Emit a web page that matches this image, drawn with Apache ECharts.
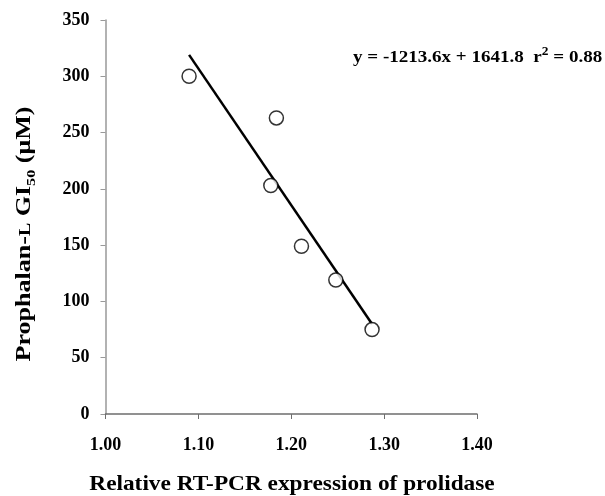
<!DOCTYPE html>
<html>
<head>
<meta charset="utf-8">
<title>Prophalan-L GI50 vs prolidase</title>
<script src="https://cdn.jsdelivr.net/npm/echarts@6/dist/echarts.min.js"></script>
<style>
  html, body { margin:0; padding:0; background:#fff; }
  #chart { width:605px; height:496px; }
</style>
</head>
<body>
<div id="chart"></div>
<script>
// data
var prolidaseExpr = [1.090, 1.184, 1.178, 1.211, 1.248, 1.287];
var gi50Values = [300, 263, 203, 149, 119, 75];
// regression line y = -1213.6x + 1641.8, ends as drawn
var trendX = [1.090, 1.287];
var trendY = [319, 80];
var xTicks = ['1.00', '1.10', '1.20', '1.30', '1.40'];
var yTicks = [0, 50, 100, 150, 200, 250, 300, 350];

var FONT = '"Liberation Serif", "Times New Roman", serif';

window.onload = function() {
  setChart();
}

function setChart() {
  var points = [];
  for (var i in prolidaseExpr) {
    points.push([prolidaseExpr[i], gi50Values[i]]);
  }
  var trend = [];
  for (var j in trendX) {
    trend.push([trendX[j], trendY[j]]);
  }

  // the original text is set wide, so stretch a little
  var tok = function(size, pad) {
    return { fontSize: size, fontWeight: 'bold', fontFamily: FONT, color: '#000', lineHeight: 26, verticalAlign: 'bottom', padding: pad || 0 };
  };

  var option = {
    animation: false,
    grid: { left: 105.5, right: 128, top: 20, bottom: 82 },
    xAxis: {
      type: 'value',
      min: 1.0,
      max: 1.4,
      interval: 0.1,
      splitLine: { show: false },
      axisLine: { lineStyle: { color: '#6e6e6e', width: 1.5 } },
      axisTick: { length: 5, lineStyle: { color: '#6e6e6e' } },
      axisLabel: {
        margin: 22,
        color: '#000',
        fontFamily: FONT,
        fontWeight: 'bold',
        fontSize: 18,
        formatter: function(v) {
          return xTicks[Math.round((v - 1.0) * 10)];
        }
      }
    },
    yAxis: {
      type: 'value',
      min: 0,
      max: 350,
      interval: 50,
      splitLine: { show: false },
      axisLine: { show: true, lineStyle: { color: '#999', width: 1.5 } },
      axisTick: { show: true, length: 5, lineStyle: { color: '#999' } },
      axisLabel: {
        margin: 16,
        color: '#000',
        fontFamily: FONT,
        fontWeight: 'bold',
        fontSize: 18,
        formatter: function(v) {
          return yTicks.indexOf(v) >= 0 ? String(v) : '';
        }
      }
    },
    graphic: [
      {
        type: 'text',
        x: 22,
        y: 234,
        rotation: Math.PI / 2,
        scaleX: 1.24,
        style: {
          text: '{a|Prophalan-}{sc|L}{a| GI}{sub|50}{a| (μM)}',
          align: 'center',
          verticalAlign: 'middle',
          rich: {
            a: tok(21),
            sc: tok(16, [0, 0, 1, 0]),
            sub: tok(13, [0, 0, -3, 0])
          }
        }
      },
      {
        type: 'text',
        x: 292,
        y: 485,
        scaleX: 1.11,
        style: {
          text: 'Relative RT-PCR expression of prolidase',
          align: 'center',
          verticalAlign: 'middle',
          fill: '#000',
          font: 'bold 21px ' + FONT
        }
      },
      {
        type: 'text',
        x: 353,
        y: 58,
        scaleX: 1.12,
        style: {
          text: 'y = -1213.6x + 1641.8  r{sup|2} = 0.88',
          align: 'left',
          verticalAlign: 'middle',
          fill: '#000',
          font: 'bold 17px ' + FONT,
          rich: {
            sup: { fontSize: 12, fontWeight: 'bold', fontFamily: FONT, verticalAlign: 'top', padding: [0, 0, 12, 0] }
          }
        }
      }
    ],
    series: [
      {
        name: 'trend',
        type: 'line',
        data: trend,
        showSymbol: false,
        symbol: 'none',
        lineStyle: { color: '#000', width: 2.5 },
        z: 2
      },
      {
        name: 'points',
        type: 'scatter',
        data: points,
        symbol: 'circle',
        symbolSize: 14,
        itemStyle: { color: '#fff', borderColor: '#000', borderWidth: 1.5 },
        z: 3
      }
    ]
  };

  var myChart = echarts.init(document.getElementById('chart'));
  myChart.setOption(option);
}
</script>
</body>
</html>
